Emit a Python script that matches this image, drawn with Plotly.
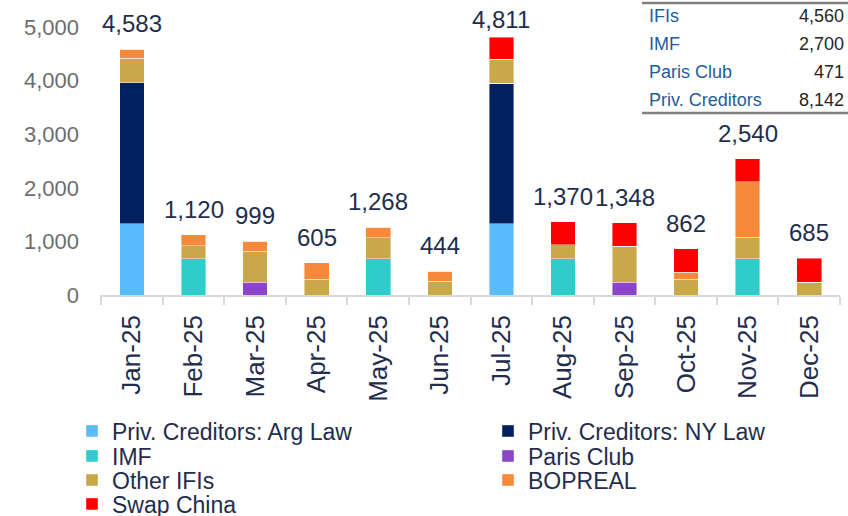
import plotly.graph_objects as go

months = ["Jan-25", "Feb-25", "Mar-25", "Apr-25", "May-25", "Jun-25",
          "Jul-25", "Aug-25", "Sep-25", "Oct-25", "Nov-25", "Dec-25"]

arg_law   = [1325, 0, 0, 0, 0, 0, 1325, 0, 0, 0, 0, 0]
ny_law    = [2635, 0, 0, 0, 0, 0, 2625, 0, 0, 0, 0, 0]
imf       = [0, 675, 0, 0, 675, 0, 0, 675, 0, 0, 675, 0]
paris     = [0, 0, 235, 0, 0, 0, 0, 0, 236, 0, 0, 0]
other_ifi = [460, 240, 585, 293, 390, 261, 447, 258, 678, 293, 407, 237]
bopreal   = [163, 205, 179, 312, 203, 183, 0, 0, 0, 136, 1032, 0]
swap      = [0, 0, 0, 0, 0, 0, 414, 437, 434, 433, 426, 448]
totals    = [4583, 1120, 999, 605, 1268, 444, 4811, 1370, 1348, 862, 2540, 685]

table_labels = ["IFIs", "IMF", "Paris Club", "Priv. Creditors"]
table_values = ["4,560", "2,700", "471", "8,142"]

series = [
    ("Priv. Creditors: Arg Law", arg_law, "#5bbcfd"),
    ("Priv. Creditors: NY Law", ny_law, "#002060"),
    ("IMF", imf, "#2ecccb"),
    ("Paris Club", paris, "#8b45c9"),
    ("Other IFIs", other_ifi, "#c9a84a"),
    ("BOPREAL", bopreal, "#f7893b"),
    ("Swap China", swap, "#ff0000"),
]

W, H = 848, 516
L, R, T, B = 100, 8, 27, 221
NAVY = "#1f2d4f"
FONT = "Arial, Liberation Sans, sans-serif"

# legend slots (pixel positions of item row centres)
legend_slots = [(72, 431), (488, 431), (72, 456), (488, 456),
                (72, 480), (488, 480), (72, 504)]

fig = go.Figure()
layout_legends = {}
for i, (name, vals, col) in enumerate(series):
    lname = "legend" if i == 0 else f"legend{i+1}"
    fig.add_trace(go.Bar(
        x=months, y=vals, name=name, legend=lname,
        marker=dict(color=col, line=dict(color="rgba(255,255,255,0.7)", width=0.6)),
        hoverinfo="x+y+name",
    ))
    lx, ly = legend_slots[i]
    layout_legends[lname] = dict(
        x=lx / W, y=1 - ly / H, xref="container", yref="container",
        xanchor="left", yanchor="middle", bgcolor="rgba(0,0,0,0)",
        borderwidth=0, font=dict(family=FONT, size=23, color=NAVY),
        itemwidth=30,
    )

annotations = []
for m, t in zip(months, totals):
    # labels near the top edge sit closer to their bar, as in the source chart
    shift = 10 if t < 4700 else 2
    annotations.append(dict(
        x=m, y=t, xref="x", yref="y", text=f"{t:,}", showarrow=False,
        yanchor="bottom", yshift=shift,
        font=dict(family=FONT, size=24, color=NAVY),
    ))

def px_x(px):
    return (px - L) / (W - L - R)

def px_y(py):
    return (H - B - py) / (H - T - B)

row_y = [16, 44, 72, 100]
for lab, val, ry in zip(table_labels, table_values, row_y):
    annotations.append(dict(
        x=px_x(647), y=px_y(ry), xref="paper", yref="paper", text=lab,
        showarrow=False, xanchor="left", yanchor="middle",
        font=dict(family=FONT, size=18, color="#1f5c99"),
    ))
    annotations.append(dict(
        x=px_x(846), y=px_y(ry), xref="paper", yref="paper", text=val,
        showarrow=False, xanchor="right", yanchor="middle",
        font=dict(family=FONT, size=18, color="#262626"),
    ))

shapes = [
    dict(type="line", xref="paper", yref="paper", x0=px_x(642), x1=px_x(848),
         y0=px_y(3), y1=px_y(3), line=dict(color="#808080", width=2.5)),
    dict(type="line", xref="paper", yref="paper", x0=px_x(642), x1=px_x(848),
         y0=px_y(113), y1=px_y(113), line=dict(color="#808080", width=2.5)),
]

fig.update_layout(
    width=W, height=H,
    margin=dict(l=L, r=R, t=T, b=B, autoexpand=False),
    barmode="stack", bargap=0.6,
    plot_bgcolor="white", paper_bgcolor="white",
    font=dict(family=FONT),
    annotations=annotations, shapes=shapes,
    showlegend=True,
    **layout_legends,
)
fig.update_xaxes(
    type="category", showline=True, linecolor="#d9d9d9", linewidth=1.5,
    ticks="outside", tickson="boundaries", ticklen=8, tickcolor="#d9d9d9",
    tickwidth=1.5, tickangle=-90, showgrid=False, ticklabelstandoff=8,
    tickfont=dict(family=FONT, size=26, color=NAVY),
)
fig.update_yaxes(
    range=[0, 5000], tickvals=[0, 1000, 2000, 3000, 4000, 5000],
    tickformat=",", showgrid=False, zeroline=False, showline=False,
    ticklabelstandoff=20,
    tickfont=dict(family=FONT, size=22, color="#6d6d6d"),
)

fig.write_html(
    "out.html",
    config={"displayModeBar": False},
    post_script="document.body.style.margin='0';document.body.style.padding='0';",
)
